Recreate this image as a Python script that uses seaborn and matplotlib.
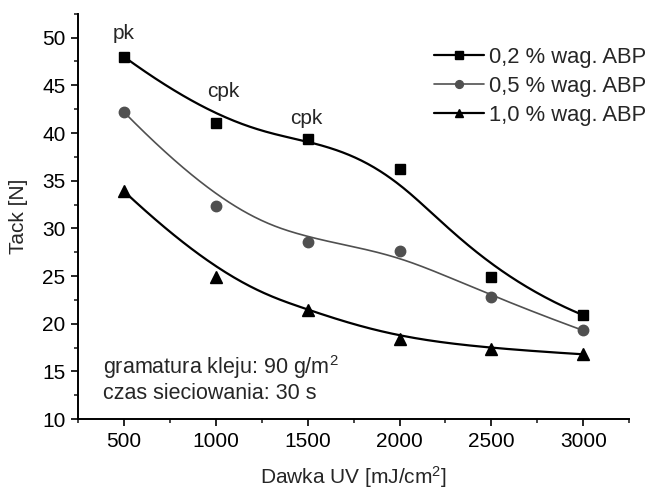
import numpy as np
import pandas as pd
import matplotlib
matplotlib.use("Agg")
import matplotlib.pyplot as plt
from matplotlib.lines import Line2D
from matplotlib.ticker import MultipleLocator
import seaborn as sns

# data
dose = [500, 1000, 1500, 2000, 2500, 3000]
tack_02 = [48.0, 41.0, 39.4, 36.2, 24.9, 20.9]
tack_05 = [42.2, 32.4, 28.6, 27.6, 22.8, 19.3]
tack_10 = [33.9, 24.9, 21.4, 18.4, 17.4, 16.8]
labels = ["0,2 % wag. ABP", "0,5 % wag. ABP", "1,0 % wag. ABP"]


def basis(i, p, t, knots):
    # Cox-de Boor recursion
    if p == 0:
        return ((knots[i] <= t) & (t < knots[i + 1])).astype(float)
    out = np.zeros_like(t)
    d1 = knots[i + p] - knots[i]
    if d1 > 0:
        out += (t - knots[i]) / d1 * basis(i, p - 1, t, knots)
    d2 = knots[i + p + 1] - knots[i + 1]
    if d2 > 0:
        out += (knots[i + p + 1] - t) / d2 * basis(i + 1, p - 1, t, knots)
    return out


def bspline(xs, ys, n=300, k=3):
    """Clamped cubic B-spline using the data points as control points."""
    P = np.column_stack([xs, ys]).astype(float)
    m = len(P)
    knots = np.concatenate([np.zeros(k + 1), np.arange(1, m - k), np.full(k + 1, m - k)])
    t = np.linspace(0, m - k, n)
    t[-1] -= 1e-9
    B = np.array([basis(i, k, t, knots) for i in range(m)])
    curve = B.T @ P
    return pd.DataFrame({"x": curve[:, 0], "y": curve[:, 1]})


sns.set_theme(style="ticks")
plt.rcParams["font.family"] = ["Liberation Sans", "DejaVu Sans"]
plt.rcParams["mathtext.fontset"] = "custom"
plt.rcParams["mathtext.rm"] = "Liberation Sans"
plt.rcParams["mathtext.default"] = "rm"

FS = 15

fig, ax = plt.subplots(figsize=(6.5, 4.92), dpi=100)
fig.subplots_adjust(left=0.12, right=0.968, bottom=0.148, top=0.972)

series = [
    (tack_02, "s", "black", 1.6, 7),
    (tack_05, "o", "#505050", 1.2, 7.5),
    (tack_10, "^", "black", 1.6, 8),
]
handles = []
for (vals, mk, col, lw, ms), lab in zip(series, labels):
    curve = bspline(dose, vals)
    sns.lineplot(data=curve, x="x", y="y", ax=ax, color=col, lw=lw,
                 sort=False, estimator=None)
    ax.plot(dose, vals, ls="none", marker=mk, color=col, ms=ms, mec=col)
    handles.append(Line2D([], [], color=col, lw=lw, marker=mk, ms=ms * 0.75, label=lab))

ax.set_xlim(250, 3250)
ax.set_ylim(10, 52.5)
ax.xaxis.set_major_locator(MultipleLocator(500))
ax.xaxis.set_minor_locator(MultipleLocator(250))
ax.yaxis.set_major_locator(MultipleLocator(5))
ax.yaxis.set_minor_locator(MultipleLocator(2.5))
ax.tick_params(which="major", direction="out", length=5, width=1.2, labelsize=FS,
               colors="black", pad=4)
ax.tick_params(which="minor", direction="out", length=3, width=1.2)
for s in ["left", "bottom"]:
    ax.spines[s].set_linewidth(1.4)
    ax.spines[s].set_color("black")
sns.despine(ax=ax)

ax.set_xlabel("Dawka UV [mJ/cm$^2$]", fontsize=FS, labelpad=10)
ax.set_ylabel("Tack [N]", fontsize=FS, labelpad=10)

ax.text(500, 50.4, "pk", ha="center", va="center", fontsize=FS)
ax.text(1040, 44.3, "cpk", ha="center", va="center", fontsize=FS)
ax.text(1495, 41.5, "cpk", ha="center", va="center", fontsize=FS)
ax.text(385, 15.5, "gramatura kleju: 90 g/m$^2$", ha="left", va="center", fontsize=15.5)
ax.text(385, 12.7, "czas sieciowania: 30 s", ha="left", va="center", fontsize=15.5)

ax.legend(handles=handles, loc="upper left", bbox_to_anchor=(0.645, 0.918), frameon=False,
          fontsize=15.8, handlelength=2.3, labelspacing=0.36, handletextpad=0.25,
          borderpad=0, borderaxespad=0)

fig.savefig("out.png", dpi=100)
